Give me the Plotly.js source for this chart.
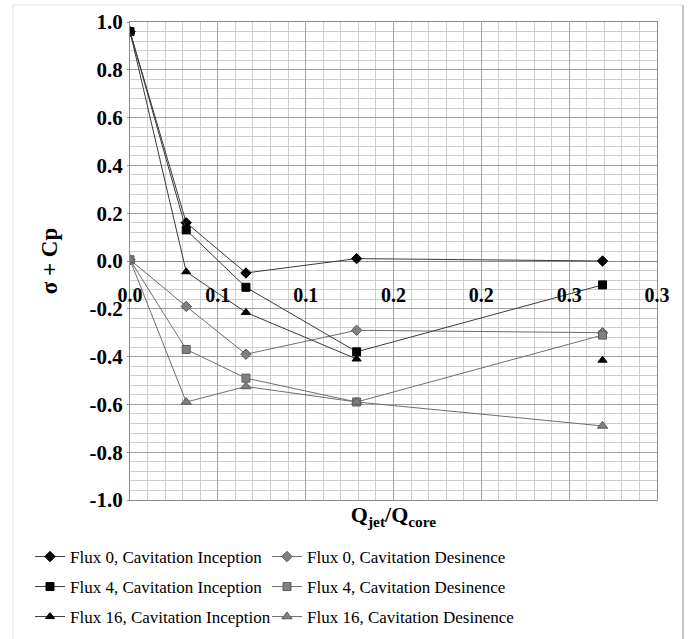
<!DOCTYPE html>
<html>
<head>
<meta charset="utf-8">
<script src="https://cdn.plot.ly/plotly-3.0.1.min.js"></script>
<style>html,body{margin:0;padding:0;background:#fff;}#chart{width:697px;height:639px;}</style>
</head>
<body>
<div id="chart"></div>
<script>
// Q_jet/Q_core values (shared by all series)
const qRatio = [0, 0.032, 0.066, 0.129, 0.269];

// sigma + Cp values
const flux0Inception  = [0.96, 0.16, -0.05, 0.01, 0.0];
const flux0Desinence  = [0.005, -0.19, -0.39, -0.29, -0.30];
const flux4Inception  = [0.96, 0.13, -0.11, -0.38, -0.10];
const flux4Desinence  = [0.005, -0.37, -0.49, -0.59, -0.31];
const flux16Inception = [0.96, -0.045, -0.215, -0.41, -0.415];
const flux16Desinence = [0.005, -0.59, -0.525, -0.59, -0.69];
// Flux 16 inception: the last point is not joined to the rest
const flux16InceptionGapBefore = 4;

const seriesNames = [
  'Flux 0, Cavitation Inception', 'Flux 0, Cavitation Desinence',
  'Flux 4, Cavitation Inception', 'Flux 4, Cavitation Desinence',
  'Flux 16, Cavitation Inception', 'Flux 16, Cavitation Desinence'
];

// tick labels
const xTickVals = [0, 0.05, 0.1, 0.15, 0.2, 0.25, 0.3];
const xTickText = ['0.0', '0.1', '0.1', '0.2', '0.2', '0.3', '0.3'];
const yTickVals = [1, 0.8, 0.6, 0.4, 0.2, 0, -0.2, -0.4, -0.6, -0.8, -1];
const yTickText = ['1.0', '0.8', '0.6', '0.4', '0.2', '0.0', '-0.2', '-0.4', '-0.6', '-0.8', '-1.0'];

const FONT = 'Liberation Serif';
const black = '#000000', gray = '#808080';
const lineDark = '#3a3a3a', lineGray = '#6e6e6e';

function withGap(xs, ys, idx) {
  if (idx == null) return {x: xs, y: ys};
  return {x: xs.slice(0, idx).concat([null], xs.slice(idx)),
          y: ys.slice(0, idx).concat([null], ys.slice(idx))};
}

function tr(name, ys, symbol, mColor, lColor, size, legendId, gap) {
  const d = withGap(qRatio, ys, gap);
  return {
    type: 'scatter', mode: 'lines+markers', name: name, legend: legendId,
    x: d.x, y: d.y, connectgaps: false,
    line: {color: lColor, width: 1},
    marker: {symbol: symbol, color: mColor, size: size,
             line: {color: mColor === gray ? '#5a5a5a' : black, width: 1}},
    xaxis: 'x', yaxis: 'y'
  };
}

const data = [
  tr(seriesNames[0], flux0Inception, 'diamond', black, lineDark, 8, 'legend'),
  tr(seriesNames[1], flux0Desinence, 'diamond', gray, lineGray, 8, 'legend2'),
  tr(seriesNames[2], flux4Inception, 'square', black, lineDark, 8, 'legend3'),
  tr(seriesNames[3], flux4Desinence, 'square', gray, lineGray, 8, 'legend4'),
  tr(seriesNames[4], flux16Inception, 'triangle-up', black, lineDark, 8, 'legend5', flux16InceptionGapBefore),
  tr(seriesNames[5], flux16Desinence, 'triangle-up', gray, lineGray, 9, 'legend6'),
  // invisible trace to carry the axis-crossing tick labels
  {type: 'scatter', x: [0, 0.3], y: [0, 0], mode: 'markers', marker: {opacity: 0},
   xaxis: 'x2', yaxis: 'y', showlegend: false, hoverinfo: 'skip'}
];

function legendCell(leftPx, centerPx) {
  return {
    orientation: 'v', x: (leftPx - 130) / 527, xanchor: 'left',
    y: (500 - (centerPx - 18)) / 478, yanchor: 'top',
    itemwidth: 30,
    font: {size: 17, family: FONT, color: '#000'}, bgcolor: 'rgba(0,0,0,0)'
  };
}

const layout = {
  width: 697, height: 639,
  margin: {l: 130, r: 40, t: 22, b: 139, autoexpand: false},
  paper_bgcolor: '#ffffff', plot_bgcolor: '#ffffff',
  font: {family: FONT, color: '#000'},
  showlegend: true,
  xaxis: {
    range: [0, 0.3], dtick: 0.05, showticklabels: false, ticks: '',
    showgrid: true, gridcolor: '#a8a8a8', gridwidth: 1,
    minor: {dtick: 0.01, showgrid: true, gridcolor: '#cfcfcf', gridwidth: 1},
    showline: true, linecolor: '#8c8c8c', linewidth: 1, mirror: true,
    zeroline: false,
    title: {text: '<b>Q<sub>jet</sub>/Q<sub>core</sub></b>', font: {size: 22, family: FONT, color: '#000'}, standoff: 6}
  },
  xaxis2: {
    overlaying: 'x', anchor: 'free', position: 0.5, matches: 'x',
    range: [0, 0.3], tickmode: 'array', tickvals: xTickVals, ticktext: xTickText,
    tickfont: {size: 20, family: FONT, weight: 'bold', color: '#000'},
    ticks: '', showgrid: false, showline: false, zeroline: false,
    ticklabelstandoff: 20, side: 'bottom'
  },
  yaxis: {
    range: [-1, 1], tickmode: 'array', tickvals: yTickVals, ticktext: yTickText,
    tickfont: {size: 21, family: FONT, weight: 'bold', color: '#000'},
    ticks: 'outside', ticklen: 2, tickcolor: '#8c8c8c',
    showgrid: true, gridcolor: '#a0a0a0', gridwidth: 1,
    minor: {dtick: 0.04, showgrid: true, gridcolor: '#cfcfcf', gridwidth: 1},
    showline: true, linecolor: '#8c8c8c', linewidth: 1, mirror: true,
    zeroline: true, zerolinecolor: '#8c8c8c', zerolinewidth: 1,
    title: {text: '<b>σ + Cp</b>', font: {size: 23, family: FONT, color: '#000'}, standoff: 25}
  },
  legend:  legendCell(30, 557),
  legend2: legendCell(267, 557),
  legend3: legendCell(30, 587),
  legend4: legendCell(267, 587),
  legend5: legendCell(30, 617),
  legend6: legendCell(267, 617),
  shapes: [
    {type: 'rect', xref: 'paper', yref: 'paper',
     x0: (13 - 130) / 527, x1: (683 - 130) / 527, y0: (500 - 645) / 478, y1: (500 - 5) / 478,
     line: {color: '#e2e2e2', width: 1}, layer: 'below'},
    {type: 'line', xref: 'paper', yref: 'paper',
     x0: (683 - 130) / 527, x1: (683 - 130) / 527, y0: (500 - 645) / 478, y1: (500 - 5) / 478,
     line: {color: '#9a9a9a', width: 1}}
  ]
};

Plotly.newPlot('chart', data, layout, {displayModeBar: false, staticPlot: true});
</script>
</body>
</html>
